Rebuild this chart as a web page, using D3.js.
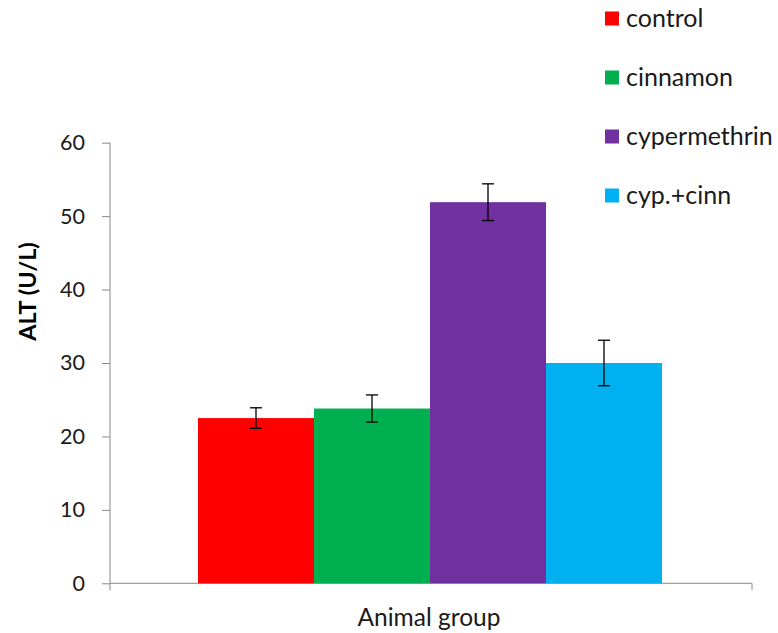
<!DOCTYPE html>
<html><head><meta charset="utf-8">
<script src="https://cdn.jsdelivr.net/npm/d3@7"></script>
<style>body{margin:0;background:#fff}svg{display:block}text{font-family:Lato,"Open Sans",sans-serif}</style>
</head><body>
<script>
const series = ["control", "cinnamon", "cypermethrin", "cyp.+cinn"];
const values = [22.5, 23.8, 51.9, 30.0];
const errors = [1.4, 1.85, 2.5, 3.1];
const colors = ["#ff0000", "#00b050", "#7030a0", "#00b0f0"];
const yTicks = [0, 10, 20, 30, 40, 50, 60];
const xLabel = "Animal group";
const yLabel = "ALT (U/L)";

const W = 778, H = 633;
const svg = d3.select("body").append("svg").attr("width", W).attr("height", H);

const y = d3.scaleLinear().domain([0, 60]).range([583.3, 142.7]);
const x = d3.scaleBand().domain(series).range([198, 662]).padding(0);
const axisCol = "#898989";

// y axis
const ya = svg.append("g").attr("transform", "translate(110,0)")
  .call(d3.axisLeft(y).tickValues(yTicks).tickSize(8).tickPadding(17));
ya.select(".domain").attr("stroke", axisCol).attr("d", `M0,${y(60)}V${y(0)}`);
ya.selectAll(".tick line").attr("stroke", axisCol);
ya.selectAll(".tick text").attr("font-size", 21.5).attr("fill", "#1a1a1a").attr("font-family", "Lato");

// x axis line
svg.append("line").attr("x1", 110).attr("x2", 752).attr("y1", y(0)).attr("y2", y(0)).attr("stroke", axisCol);
[110, 752].forEach(px => svg.append("line").attr("x1", px).attr("x2", px).attr("y1", y(0)).attr("y2", y(0) + 7).attr("stroke", axisCol));

// bars
svg.selectAll("rect.bar").data(series).join("rect").attr("class", "bar")
  .attr("x", d => x(d)).attr("width", x.bandwidth())
  .attr("y", (d, i) => y(values[i])).attr("height", (d, i) => y(0) - y(values[i]))
  .attr("fill", (d, i) => colors[i]);

// error bars
const eg = svg.append("g").attr("stroke", "#000").attr("stroke-width", 1.3);
series.forEach((s, i) => {
  const cx = x(s) + x.bandwidth() / 2;
  const t = y(values[i] + errors[i]), b = y(values[i] - errors[i]);
  eg.append("line").attr("x1", cx).attr("x2", cx).attr("y1", t).attr("y2", b);
  eg.append("line").attr("x1", cx - 6).attr("x2", cx + 6).attr("y1", t).attr("y2", t);
  eg.append("line").attr("x1", cx - 6).attr("x2", cx + 6).attr("y1", b).attr("y2", b);
});

// legend
const lg = svg.append("g");
series.forEach((s, i) => {
  const cy = 18.5 + i * 59;
  lg.append("rect").attr("x", 605).attr("y", cy - 7).attr("width", 14).attr("height", 14).attr("fill", colors[i]);
  lg.append("text").attr("x", 626).attr("y", cy).attr("dy", "0.35em").attr("font-size", 25).attr("fill", "#1a1a1a").text(s);
});

// axis titles
svg.append("text").attr("x", 429).attr("y", 626).attr("text-anchor", "middle").attr("font-size", 24.5).attr("fill", "#1a1a1a").text(xLabel);
svg.append("text").attr("transform", `translate(36,291.5) rotate(-90)`).attr("text-anchor", "middle")
  .attr("font-size", 23.5).attr("font-weight", "bold").attr("fill", "#000").text(yLabel);
</script>
</body></html>
